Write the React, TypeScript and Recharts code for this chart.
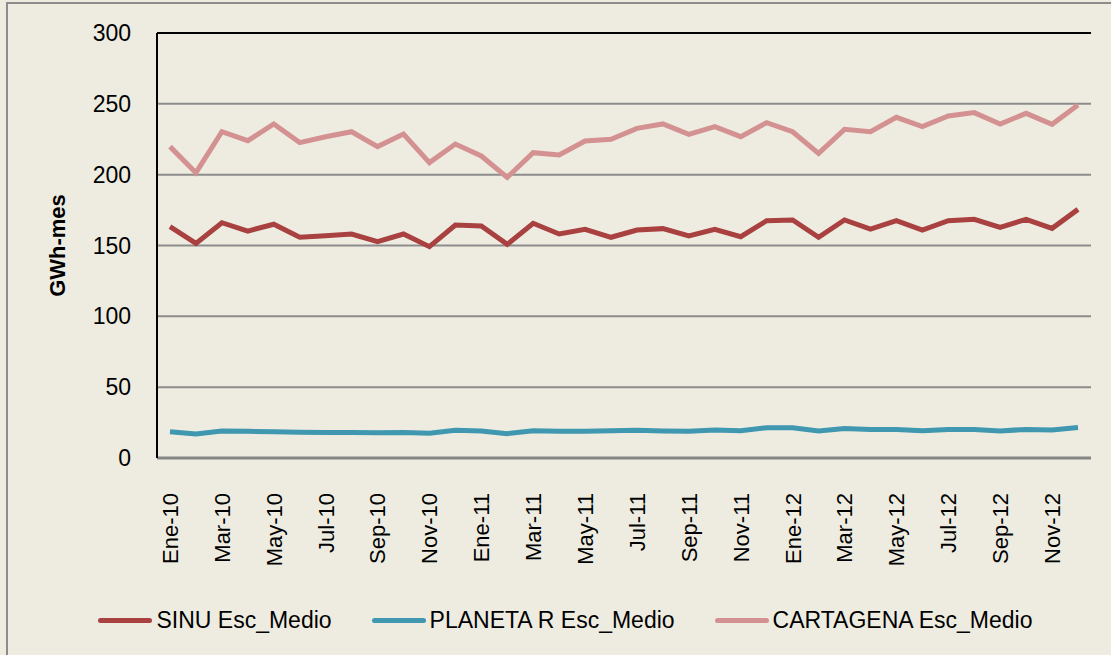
import React from 'react';
import { LineChart, Line, XAxis, YAxis, CartesianGrid, Legend, ReferenceLine, Label } from 'recharts';

const months = [
  'Ene-10','Feb-10','Mar-10','Abr-10','May-10','Jun-10','Jul-10','Ago-10','Sep-10','Oct-10','Nov-10','Dic-10',
  'Ene-11','Feb-11','Mar-11','Abr-11','May-11','Jun-11','Jul-11','Ago-11','Sep-11','Oct-11','Nov-11','Dic-11',
  'Ene-12','Feb-12','Mar-12','Abr-12','May-12','Jun-12','Jul-12','Ago-12','Sep-12','Oct-12','Nov-12','Dic-12',
];

const sinu = [
  163.3,151.5,166.1,160.2,165.0,155.8,156.9,158.1,152.7,158.1,149.2,164.5,
  163.8,150.8,165.7,158.1,161.4,155.8,160.9,161.9,156.7,161.4,156.2,167.5,
  168.0,155.8,168.0,161.6,167.5,160.9,167.5,168.5,162.8,168.5,162.1,175.5,
];

const planeta = [
  18.6,16.9,19.1,18.8,18.6,18.1,18.0,18.0,17.8,18.0,17.4,19.5,
  19.1,17.2,19.3,18.8,18.8,19.3,19.5,19.1,18.8,19.8,19.3,21.4,
  21.4,19.1,20.9,20.2,20.2,19.3,20.2,20.2,19.1,20.2,19.8,21.6,
];

const cartagena = [
  219.8,201.4,230.3,224.0,235.8,222.6,226.8,230.3,219.8,228.7,208.5,221.6,
  213.2,198.1,215.5,213.9,223.8,225.0,232.7,235.8,228.5,233.9,226.8,236.7,
  230.3,215.0,232.0,230.3,240.5,233.9,241.4,243.8,235.8,243.3,235.5,249.2,
];

const yTicks = [0, 50, 100, 150, 200, 250, 300];

const seriesNames = ['SINU Esc_Medio', 'PLANETA R Esc_Medio', 'CARTAGENA Esc_Medio'];
const seriesColors = ['#A8413F', '#3F97B0', '#D49191'];

const data = months.map((m, i) => ({
  mes: m,
  sinu: sinu[i],
  planeta: planeta[i],
  cartagena: cartagena[i],
}));

const FONT = "'Liberation Sans', Arial, sans-serif";

const XTick = (props: any) => {
  const { x, y, payload } = props;
  return (
    <text
      x={x}
      y={y + 27}
      transform={`rotate(-90, ${x}, ${y + 27})`}
      textAnchor="end"
      dy="0.36em"
      fontSize={22}
      fontFamily={FONT}
      fill="#000"
    >
      {payload.value}
    </text>
  );
};

const LegendContent = () => (
  <div style={{ display: 'flex', justifyContent: 'center', alignItems: 'center', fontFamily: FONT, fontSize: 23, color: '#000', paddingLeft: 40, paddingTop: 12 }}>
    {seriesNames.map((n, i) => (
      <div key={n} style={{ display: 'flex', alignItems: 'center', marginRight: i < 2 ? 40 : 0 }}>
        <div style={{ width: 54, height: 5, borderRadius: 3, background: seriesColors[i], marginRight: 4 }} />
        <span>{n}</span>
      </div>
    ))}
  </div>
);

export default function App() {
  return (
    <div style={{ position: 'absolute', left: 0, top: 0, width: 1111, height: 655, background: '#EEECE1', overflow: 'hidden' }}>
      <div style={{ position: 'absolute', left: 6, top: 2, width: 1120, height: 670, border: '2px solid #8C8C8C', boxSizing: 'border-box' }} />
      <div style={{ position: 'absolute', left: 0, top: 0 }}>
        <LineChart width={1111} height={655} data={data} margin={{ top: 33, right: 20, bottom: 0, left: 0 }}>
          <CartesianGrid horizontal vertical={false} stroke="#8C8C8C" strokeWidth={2} />
          <XAxis
            dataKey="mes"
            interval={1}
            height={137}
            padding={{ left: 13, right: 13 }}
            tick={<XTick />}
            tickLine={false}
            axisLine={{ stroke: '#868686', strokeWidth: 3 }}
          />
          <YAxis
            width={157}
            domain={[0, 300]}
            ticks={yTicks}
            tickLine={false}
            tickSize={6}
            tickMargin={20}
            axisLine={{ stroke: '#000', strokeWidth: 2 }}
            tick={{ fontSize: 23, fontFamily: FONT, fill: '#000' }}
          >
            <Label
              content={(p: any) => {
                const vb = p.viewBox || {};
                const cy = (vb.y || 33) + (vb.height || 425) / 2;
                return (
                  <text
                    x={57}
                    y={cy}
                    transform={`rotate(-90, 57, ${cy})`}
                    textAnchor="middle"
                    dy="0.36em"
                    fontSize={22}
                    fontWeight="bold"
                    fontFamily={FONT}
                    fill="#000"
                  >
                    GWh-mes
                  </text>
                );
              }}
            />
          </YAxis>
          <YAxis
            yAxisId="r"
            orientation="right"
            width={0}
            domain={[0, 300]}
            tick={false}
            tickLine={false}
            axisLine={{ stroke: '#7F7F7F', strokeWidth: 2 }}
          />
          <ReferenceLine y={300} stroke="#000" strokeWidth={2} />
          <Legend verticalAlign="bottom" height={60} content={<LegendContent />} />
          <Line type="linear" dataKey="sinu" name={seriesNames[0]} stroke={seriesColors[0]} strokeWidth={5} dot={false} isAnimationActive={false} />
          <Line type="linear" dataKey="planeta" name={seriesNames[1]} stroke={seriesColors[1]} strokeWidth={5} dot={false} isAnimationActive={false} />
          <Line type="linear" dataKey="cartagena" name={seriesNames[2]} stroke={seriesColors[2]} strokeWidth={5} dot={false} isAnimationActive={false} />
        </LineChart>
      </div>
    </div>
  );
}
